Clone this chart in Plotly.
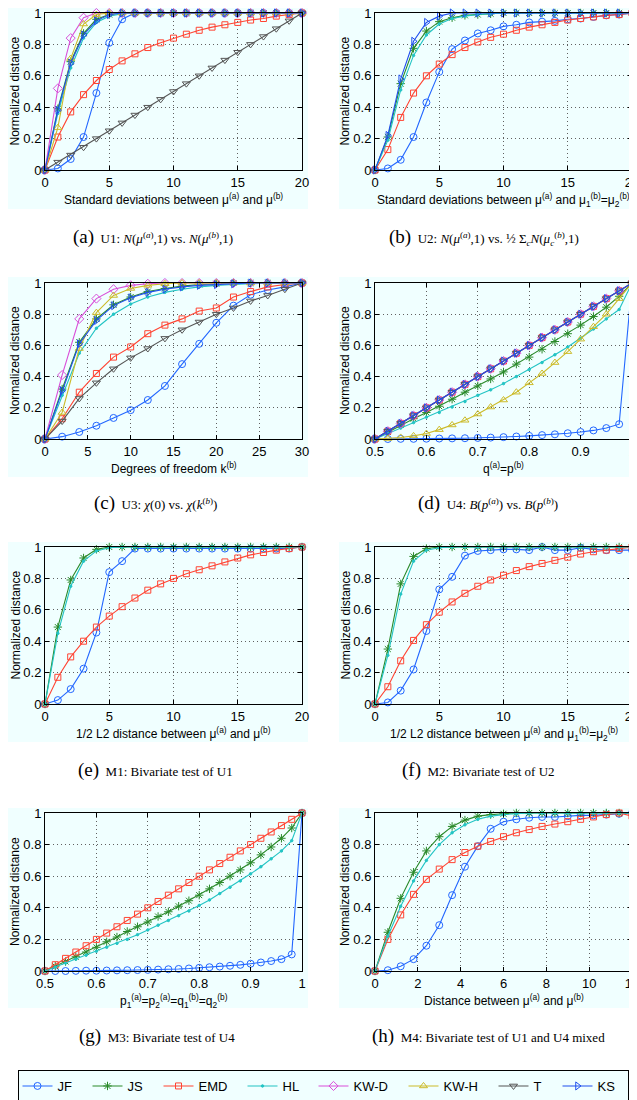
import plotly.graph_objects as go

# ---------------- data ----------------
series_names = ["JF", "JS", "EMD", "HL", "KW-D", "KW-H", "T", "KS"]

a_x = [0, 1, 2, 3, 4, 5, 6, 7, 8, 9, 10, 11, 12, 13, 14, 15, 16, 17, 18, 19, 20]
a_JF = [0, 0.01, 0.07, 0.21, 0.49, 0.81, 0.96, 1.0, 1.0, 1.0, 1.0, 1.0, 1.0, 1.0, 1.0, 1.0, 1.0, 1.0, 1.0, 1.0, 1.0]
a_JS = [0, 0.39, 0.69, 0.87, 0.96, 0.99, 1.0, 1.0, 1.0, 1.0, 1.0, 1.0, 1.0, 1.0, 1.0, 1.0, 1.0, 1.0, 1.0, 1.0, 1.0]
a_EMD = [0, 0.21, 0.37, 0.48, 0.57, 0.64, 0.695, 0.74, 0.78, 0.81, 0.84, 0.865, 0.89, 0.91, 0.925, 0.94, 0.955, 0.965, 0.98, 0.99, 1.0]
a_HL = [0, 0.36, 0.65, 0.84, 0.94, 0.98, 0.995, 1.0, 1.0, 1.0, 1.0, 1.0, 1.0, 1.0, 1.0, 1.0, 1.0, 1.0, 1.0, 1.0, 1.0]
a_KWD = [0, 0.52, 0.84, 0.97, 1.0, 1.0, 1.0, 1.0, 1.0, 1.0, 1.0, 1.0, 1.0, 1.0, 1.0, 1.0, 1.0, 1.0, 1.0, 1.0, 1.0]
a_KWH = [0, 0.27, 0.71, 0.93, 0.99, 1.0, 1.0, 1.0, 1.0, 1.0, 1.0, 1.0, 1.0, 1.0, 1.0, 1.0, 1.0, 1.0, 1.0, 1.0, 1.0]
a_T = [0, 0.05, 0.095, 0.145, 0.2, 0.25, 0.3, 0.35, 0.4, 0.45, 0.5, 0.55, 0.6, 0.65, 0.7, 0.75, 0.8, 0.85, 0.9, 0.95, 1.0]
a_KS = [0, 0.38, 0.68, 0.86, 0.95, 0.99, 1.0, 1.0, 1.0, 1.0, 1.0, 1.0, 1.0, 1.0, 1.0, 1.0, 1.0, 1.0, 1.0, 1.0, 1.0]

b_x = [0, 1, 2, 3, 4, 5, 6, 7, 8, 9, 10, 11, 12, 13, 14, 15, 16, 17, 18, 19, 20]
b_JF = [0, 0.01, 0.065, 0.21, 0.43, 0.625, 0.77, 0.825, 0.87, 0.89, 0.915, 0.925, 0.94, 0.945, 0.95, 0.96, 0.965, 0.975, 0.985, 0.99, 1.0]
b_JS = [0, 0.21, 0.55, 0.775, 0.885, 0.945, 0.97, 0.985, 0.99, 0.995, 1.0, 1.0, 1.0, 1.0, 1.0, 1.0, 1.0, 1.0, 1.0, 1.0, 1.0]
b_EMD = [0, 0.13, 0.335, 0.49, 0.60, 0.675, 0.735, 0.78, 0.815, 0.845, 0.865, 0.89, 0.91, 0.925, 0.94, 0.955, 0.965, 0.975, 0.985, 0.99, 1.0]
b_HL = [0, 0.19, 0.51, 0.73, 0.86, 0.93, 0.965, 0.98, 0.99, 0.995, 1.0, 1.0, 1.0, 1.0, 1.0, 1.0, 1.0, 1.0, 1.0, 1.0, 1.0]
b_KS = [0, 0.22, 0.58, 0.82, 0.94, 0.98, 1.0, 1.0, 1.0, 1.0, 1.0, 1.0, 1.0, 1.0, 1.0, 1.0, 1.0, 1.0, 1.0, 1.0, 1.0]

c_x = [0, 2, 4, 6, 8, 10, 12, 14, 16, 18, 20, 22, 24, 26, 28, 30]
c_JF = [0, 0.015, 0.045, 0.085, 0.135, 0.185, 0.25, 0.34, 0.48, 0.61, 0.745, 0.855, 0.925, 0.955, 0.975, 1.0]
c_JS = [0, 0.32, 0.62, 0.77, 0.86, 0.91, 0.945, 0.965, 0.98, 0.99, 0.995, 1.0, 1.0, 1.0, 1.0, 1.0]
c_EMD = [0, 0.13, 0.30, 0.42, 0.525, 0.59, 0.675, 0.73, 0.77, 0.82, 0.84, 0.91, 0.945, 0.975, 0.99, 1.0]
c_HL = [0, 0.28, 0.55, 0.71, 0.80, 0.865, 0.91, 0.94, 0.96, 0.975, 0.985, 0.99, 0.995, 1.0, 1.0, 1.0]
c_KWD = [0, 0.41, 0.77, 0.90, 0.96, 0.985, 0.995, 1.0, 1.0, 1.0, 1.0, 1.0, 1.0, 1.0, 1.0, 1.0]
c_KWH = [0, 0.17, 0.58, 0.81, 0.92, 0.965, 0.985, 0.995, 1.0, 1.0, 1.0, 1.0, 1.0, 1.0, 1.0, 1.0]
c_T = [0, 0.115, 0.26, 0.36, 0.45, 0.52, 0.58, 0.645, 0.70, 0.75, 0.80, 0.84, 0.885, 0.92, 0.96, 1.0]
c_KS = [0, 0.31, 0.61, 0.76, 0.855, 0.905, 0.94, 0.96, 0.975, 0.985, 0.99, 0.995, 1.0, 1.0, 1.0, 1.0]

d_x = [0.5, 0.525, 0.55, 0.575, 0.6, 0.625, 0.65, 0.675, 0.7, 0.725, 0.75, 0.775, 0.8, 0.825, 0.85, 0.875, 0.9, 0.925, 0.95, 0.975, 1.0]
d_JF = [0, 0.0, 0.001, 0.001, 0.002, 0.003, 0.004, 0.005, 0.007, 0.009, 0.012, 0.016, 0.02, 0.025, 0.03, 0.037, 0.045, 0.055, 0.07, 0.095, 1.0]
d_JS = [0, 0.045, 0.09, 0.13, 0.17, 0.21, 0.255, 0.30, 0.34, 0.385, 0.43, 0.48, 0.525, 0.575, 0.625, 0.675, 0.73, 0.785, 0.845, 0.915, 1.0]
d_EMD = [0, 0.05, 0.1, 0.15, 0.2, 0.25, 0.3, 0.35, 0.4, 0.45, 0.5, 0.55, 0.6, 0.65, 0.7, 0.75, 0.8, 0.85, 0.9, 0.95, 1.0]
d_HL = [0, 0.035, 0.07, 0.105, 0.14, 0.17, 0.205, 0.24, 0.28, 0.315, 0.355, 0.40, 0.445, 0.49, 0.54, 0.59, 0.645, 0.705, 0.77, 0.83, 1.0]
d_KWD = [0, 0.05, 0.1, 0.15, 0.2, 0.25, 0.3, 0.35, 0.4, 0.45, 0.5, 0.55, 0.6, 0.65, 0.7, 0.75, 0.8, 0.85, 0.9, 0.95, 1.0]
d_KWH = [0, 0.003, 0.01, 0.02, 0.035, 0.06, 0.09, 0.12, 0.16, 0.205, 0.25, 0.30, 0.36, 0.42, 0.49, 0.56, 0.64, 0.72, 0.80, 0.90, 1.0]
d_T = [0, 0.05, 0.1, 0.15, 0.2, 0.25, 0.3, 0.35, 0.4, 0.45, 0.5, 0.55, 0.6, 0.65, 0.7, 0.75, 0.8, 0.85, 0.9, 0.95, 1.0]
d_KS = [0, 0.05, 0.1, 0.15, 0.2, 0.25, 0.3, 0.35, 0.4, 0.45, 0.5, 0.55, 0.6, 0.65, 0.7, 0.75, 0.8, 0.85, 0.9, 0.95, 1.0]

e_x = [0, 1, 2, 3, 4, 5, 6, 7, 8, 9, 10, 11, 12, 13, 14, 15, 16, 17, 18, 19, 20]
e_JF = [0, 0.025, 0.095, 0.225, 0.455, 0.84, 0.91, 0.99, 0.99, 0.99, 0.99, 0.99, 0.99, 0.99, 0.99, 0.99, 0.99, 0.99, 0.99, 0.99, 1.0]
e_JS = [0, 0.49, 0.79, 0.93, 0.985, 1.0, 1.0, 1.0, 1.0, 1.0, 1.0, 1.0, 1.0, 1.0, 1.0, 1.0, 1.0, 1.0, 1.0, 1.0, 1.0]
e_EMD = [0, 0.17, 0.30, 0.40, 0.49, 0.56, 0.62, 0.675, 0.725, 0.765, 0.80, 0.83, 0.855, 0.88, 0.905, 0.93, 0.95, 0.965, 0.98, 0.99, 1.0]
e_HL = [0, 0.45, 0.75, 0.91, 0.975, 0.995, 1.0, 1.0, 1.0, 1.0, 1.0, 1.0, 1.0, 1.0, 1.0, 1.0, 1.0, 1.0, 1.0, 1.0, 1.0]

f_x = [0, 1, 2, 3, 4, 5, 6, 7, 8, 9, 10, 11, 12, 13, 14, 15, 16, 17, 18, 19, 20]
f_JF = [0, 0.01, 0.085, 0.22, 0.465, 0.73, 0.81, 0.945, 0.975, 0.98, 0.985, 0.985, 0.98, 1.0, 0.98, 0.98, 0.995, 0.985, 0.98, 0.98, 0.98]
f_JS = [0, 0.35, 0.765, 0.94, 0.99, 1.0, 1.0, 1.0, 1.0, 1.0, 1.0, 1.0, 1.0, 1.0, 1.0, 1.0, 1.0, 1.0, 1.0, 1.0, 1.0]
f_EMD = [0, 0.11, 0.275, 0.405, 0.505, 0.585, 0.65, 0.705, 0.75, 0.79, 0.82, 0.85, 0.875, 0.895, 0.915, 0.935, 0.955, 0.97, 0.98, 0.99, 1.0]
f_HL = [0, 0.31, 0.70, 0.91, 0.98, 0.995, 1.0, 1.0, 1.0, 1.0, 1.0, 1.0, 1.0, 1.0, 1.0, 1.0, 1.0, 1.0, 1.0, 1.0, 1.0]

g_x = [0.5, 0.52, 0.54, 0.56, 0.58, 0.6, 0.62, 0.64, 0.66, 0.68, 0.7, 0.72, 0.74, 0.76, 0.78, 0.8, 0.82, 0.84, 0.86, 0.88, 0.9, 0.92, 0.94, 0.96, 0.98, 1.0]
g_JF = [0, 0, 0, 0.001, 0.002, 0.002, 0.003, 0.004, 0.005, 0.006, 0.007, 0.009, 0.011, 0.013, 0.016, 0.02, 0.024, 0.028, 0.033, 0.039, 0.046, 0.054, 0.063, 0.075, 0.105, 1.0]
g_JS = [0, 0.03, 0.06, 0.09, 0.12, 0.15, 0.185, 0.215, 0.25, 0.28, 0.31, 0.345, 0.375, 0.41, 0.445, 0.48, 0.52, 0.56, 0.60, 0.64, 0.685, 0.735, 0.785, 0.84, 0.905, 1.0]
g_EMD = [0, 0.04, 0.08, 0.12, 0.16, 0.2, 0.24, 0.28, 0.32, 0.36, 0.4, 0.44, 0.48, 0.52, 0.56, 0.6, 0.64, 0.68, 0.72, 0.76, 0.8, 0.84, 0.88, 0.92, 0.96, 1.0]
g_HL = [0, 0.025, 0.05, 0.075, 0.10, 0.125, 0.15, 0.175, 0.20, 0.23, 0.26, 0.29, 0.32, 0.35, 0.38, 0.415, 0.45, 0.49, 0.53, 0.57, 0.615, 0.66, 0.71, 0.76, 0.825, 1.0]

h_x = [0, 0.6, 1.2, 1.8, 2.4, 3.0, 3.6, 4.2, 4.8, 5.4, 6.0, 6.6, 7.2, 7.8, 8.4, 9.0, 9.6, 10.2, 10.8, 11.4, 12.0]
h_JF = [0, 0.005, 0.03, 0.075, 0.16, 0.29, 0.48, 0.66, 0.79, 0.90, 0.945, 0.96, 0.97, 0.975, 0.975, 0.98, 0.985, 0.985, 0.99, 0.995, 1.0]
h_JS = [0, 0.245, 0.46, 0.625, 0.76, 0.85, 0.915, 0.955, 0.98, 0.99, 0.995, 1.0, 1.0, 1.0, 1.0, 1.0, 1.0, 1.0, 1.0, 1.0, 1.0]
h_EMD = [0, 0.20, 0.355, 0.485, 0.58, 0.645, 0.705, 0.75, 0.79, 0.82, 0.85, 0.875, 0.895, 0.915, 0.93, 0.945, 0.96, 0.975, 0.99, 1.0, 0.98]
h_HL = [0, 0.22, 0.41, 0.57, 0.70, 0.80, 0.875, 0.925, 0.96, 0.98, 0.99, 0.995, 1.0, 1.0, 1.0, 1.0, 1.0, 1.0, 1.0, 1.0, 1.0]

x_ticks_20 = [0, 5, 10, 15, 20]
x_ticks_30 = [0, 5, 10, 15, 20, 25, 30]
x_ticks_p = [0.5, 0.6, 0.7, 0.8, 0.9, 1.0]
x_ticklabels_p = ["0.5", "0.6", "0.7", "0.8", "0.9", "1"]
x_ticks_12 = [0, 2, 4, 6, 8, 10, 12]
y_ticks = [0, 0.2, 0.4, 0.6, 0.8, 1.0]
y_ticklabels = ["0", "0.2", "0.4", "0.6", "0.8", "1"]

# ---------------- styles ----------------
STYLE = {
    "JF":   dict(color="#2266FF", symbol="circle-open", size=7, lw=1.1),
    "JS":   dict(color="#2A8A2A", symbol="asterisk-open", size=7, lw=1.1),
    "EMD":  dict(color="#FF4433", symbol="square-open", size=6, lw=1.1),
    "HL":   dict(color="#22C4C4", symbol="circle", size=2.5, lw=1.1),
    "KW-D": dict(color="#D94FD9", symbol="diamond-open", size=7, lw=1.1),
    "KW-H": dict(color="#CCBB2A", symbol="triangle-up-open", size=7, lw=1.1),
    "T":    dict(color="#555555", symbol="triangle-down-open", size=7, lw=1.1),
    "KS":   dict(color="#1F4FEE", symbol="triangle-right-open", size=7, lw=1.1),
}
LEGEND_W = {"JF": 25, "JS": 26, "EMD": 39, "HL": 26, "KW-D": 45, "KW-H": 45, "T": 19, "KS": 25}

# The page body adds an 8 px margin, so the figure is drawn 8 px smaller
# and every page-pixel position is shifted by that offset.
OFF = 8
W, H = 637 - OFF, 1100 - OFF
BG = "#F0FFFF"
SANS = "Liberation Sans, Arial, Helvetica, sans-serif"
SERIF = "Liberation Serif, Times New Roman, serif"

colL = (45, 302)
colR = (375, 632)
rows = [(13, 170), (283, 439), (547, 704), (813, 971)]
bg_rows = [(5, 209), (277, 477), (542, 742), (808, 1008)]
cap_y = [237, 503, 770, 1036]

mu = "<i>μ</i>"
panels = [
    dict(x=a_x, ys={"JF": a_JF, "JS": a_JS, "EMD": a_EMD, "HL": a_HL, "KW-D": a_KWD, "KW-H": a_KWH, "T": a_T, "KS": a_KS},
         xr=[0, 20], xt=x_ticks_20, xtl=None,
         xtitle="Standard deviations between μ<sup>(a)</sup> and μ<sup>(b)</sup>",
         cap="(a)", captext="U1: <i>N</i>(" + mu + "<sup>(<i>a</i>)</sup>,1) vs. <i>N</i>(" + mu + "<sup>(<i>b</i>)</sup>,1)",
         capx=153),
    dict(x=b_x, ys={"JF": b_JF, "JS": b_JS, "EMD": b_EMD, "HL": b_HL, "KS": b_KS},
         xr=[0, 20], xt=x_ticks_20, xtl=None,
         xtitle="Standard deviations between μ<sup>(a)</sup> and μ<sub>1</sub><sup>(b)</sup>=μ<sub>2</sub><sup>(b)</sup>",
         cap="(b)", captext="U2: <i>N</i>(" + mu + "<sup>(<i>a</i>)</sup>,1) vs. ½ Σ<sub><i>c</i></sub><i>N</i>(" + mu + "<sub><i>c</i></sub><sup>(<i>b</i>)</sup>,1)",
         capx=484),
    dict(x=c_x, ys={"JF": c_JF, "JS": c_JS, "EMD": c_EMD, "HL": c_HL, "KW-D": c_KWD, "KW-H": c_KWH, "T": c_T, "KS": c_KS},
         xr=[0, 30], xt=x_ticks_30, xtl=None,
         xtitle="Degrees of freedom k<sup>(b)</sup>",
         cap="(c)", captext="U3: <i>χ</i>(0) vs. <i>χ</i>(<i>k</i><sup>(<i>b</i>)</sup>)",
         capx=155, legend=True),
    dict(x=d_x, ys={"JF": d_JF, "JS": d_JS, "EMD": d_EMD, "HL": d_HL, "KW-D": d_KWD, "KW-H": d_KWH, "T": d_T, "KS": d_KS},
         xr=[0.5, 1.0], xt=x_ticks_p, xtl=x_ticklabels_p,
         xtitle="q<sup>(a)</sup>=p<sup>(b)</sup>",
         cap="(d)", captext="U4: <i>B</i>(<i>p</i><sup>(<i>a</i>)</sup>) vs. <i>B</i>(<i>p</i><sup>(<i>b</i>)</sup>)",
         capx=488),
    dict(x=e_x, ys={"JF": e_JF, "JS": e_JS, "EMD": e_EMD, "HL": e_HL},
         xr=[0, 20], xt=x_ticks_20, xtl=None,
         xtitle="1/2 L2 distance between μ<sup>(a)</sup> and μ<sup>(b)</sup>",
         cap="(e)", captext="M1: Bivariate test of U1", capx=155),
    dict(x=f_x, ys={"JF": f_JF, "JS": f_JS, "EMD": f_EMD, "HL": f_HL},
         xr=[0, 20], xt=x_ticks_20, xtl=None,
         xtitle="1/2 L2 distance between μ<sup>(a)</sup> and μ<sub>1</sub><sup>(b)</sup>=μ<sub>2</sub><sup>(b)</sup>",
         cap="(f)", captext="M2: Bivariate test of U2", capx=478),
    dict(x=g_x, ys={"JF": g_JF, "JS": g_JS, "EMD": g_EMD, "HL": g_HL},
         xr=[0.5, 1.0], xt=x_ticks_p, xtl=x_ticklabels_p,
         xtitle="p<sub>1</sub><sup>(a)</sup>=p<sub>2</sub><sup>(a)</sup>=q<sub>1</sub><sup>(b)</sup>=q<sub>2</sub><sup>(b)</sup>",
         cap="(g)", captext="M3: Bivariate test of U4", capx=157),
    dict(x=h_x, ys={"JF": h_JF, "JS": h_JS, "EMD": h_EMD, "HL": h_HL},
         xr=[0, 12], xt=x_ticks_12, xtl=None,
         xtitle="Distance between μ<sup>(a)</sup> and μ<sup>(b)</sup>",
         cap="(h)", captext="M4: Bivariate test of U1 and U4 mixed", capx=489),
]


def px_x(v):
    return (v - OFF) / W


def px_y(v):
    return 1 - (v - OFF) / H


fig = go.Figure()
shapes = []
annotations = []
layout_axes = {}

for i, p in enumerate(panels):
    r, c = divmod(i, 2)
    col = colL if c == 0 else colR
    top, bot = rows[r]
    idx = "" if i == 0 else str(i + 1)
    xa, ya = "x" + idx, "y" + idx

    for name in series_names:
        if name not in p["ys"]:
            continue
        s = STYLE[name]
        fig.add_trace(go.Scatter(
            x=p["x"], y=p["ys"][name], xaxis=xa, yaxis=ya,
            mode="lines+markers", name=name, legendgroup=name,
            showlegend=bool(p.get("legend", False)),
            legendwidth=LEGEND_W[name],
            line=dict(color=s["color"], width=s["lw"]),
            marker=dict(symbol=s["symbol"], size=s["size"], color=s["color"],
                        line=dict(color=s["color"], width=1)),
            cliponaxis=False,
        ))

    axis_common = dict(showline=True, linecolor="black", linewidth=1, mirror="ticks",
                       ticks="inside", ticklen=4, tickcolor="black", tickwidth=1,
                       showgrid=True, gridcolor="#606060", griddash="1px,3px", gridwidth=1,
                       zeroline=False, automargin=False, ticklabeloverflow="allow",
                       tickfont=dict(family=SANS, size=13, color="black"))
    xdict = dict(axis_common, domain=[px_x(col[0]), min(1.0, px_x(col[1]))], range=p["xr"],
                 tickvals=p["xt"], anchor=ya)
    if p["xtl"] is not None:
        xdict["ticktext"] = p["xtl"]
    ydict = dict(axis_common, domain=[px_y(bot), px_y(top)], range=[0, 1],
                 tickvals=y_ticks, ticktext=y_ticklabels, anchor=xa)
    layout_axes["xaxis" + idx] = xdict
    layout_axes["yaxis" + idx] = ydict

    # background panel region
    bx0 = 8 if c == 0 else 339
    bx1 = 308 if c == 0 else 640
    by0, by1 = bg_rows[r]
    shapes.append(dict(type="rect", xref="paper", yref="paper", layer="below",
                       x0=px_x(bx0), x1=px_x(bx1), y0=px_y(by1), y1=px_y(max(by0, OFF)),
                       fillcolor=BG, line=dict(width=0)))

    # axis titles
    annotations.append(dict(text=p["xtitle"], xref="paper", yref="paper",
                            x=px_x((col[0] + col[1]) / 2), y=px_y(bot + 19),
                            xanchor="center", yanchor="top", showarrow=False,
                            font=dict(family=SANS, size=12, color="black")))
    annotations.append(dict(text="Normalized distance", xref="paper", yref="paper",
                            x=px_x(col[0] - 30), y=px_y((top + bot) / 2),
                            xanchor="center", yanchor="middle", textangle=-90, showarrow=False,
                            font=dict(family=SANS, size=12, color="black")))
    # caption
    annotations.append(dict(text='<span style="font-size:19px">' + p["cap"] + '</span>&nbsp;&nbsp;' + p["captext"],
                            xref="paper", yref="paper", x=px_x(p["capx"]), y=px_y(cap_y[r]),
                            xanchor="center", yanchor="middle", showarrow=False,
                            font=dict(family=SERIF, size=13, color="black")))

fig.update_layout(
    width=W, height=H, margin=dict(l=0, r=0, t=0, b=0, autoexpand=False),
    paper_bgcolor="white", plot_bgcolor=BG,
    shapes=shapes, annotations=annotations,
    showlegend=True,
    legend=dict(orientation="h", x=px_x(323), xanchor="center", y=px_y(1086), yanchor="middle",
                bgcolor=BG, bordercolor="black", borderwidth=1,
                font=dict(family=SANS, size=13, color="black"),
                itemwidth=30, tracegroupgap=0),
    **layout_axes,
)

fig.write_html("out.html")
